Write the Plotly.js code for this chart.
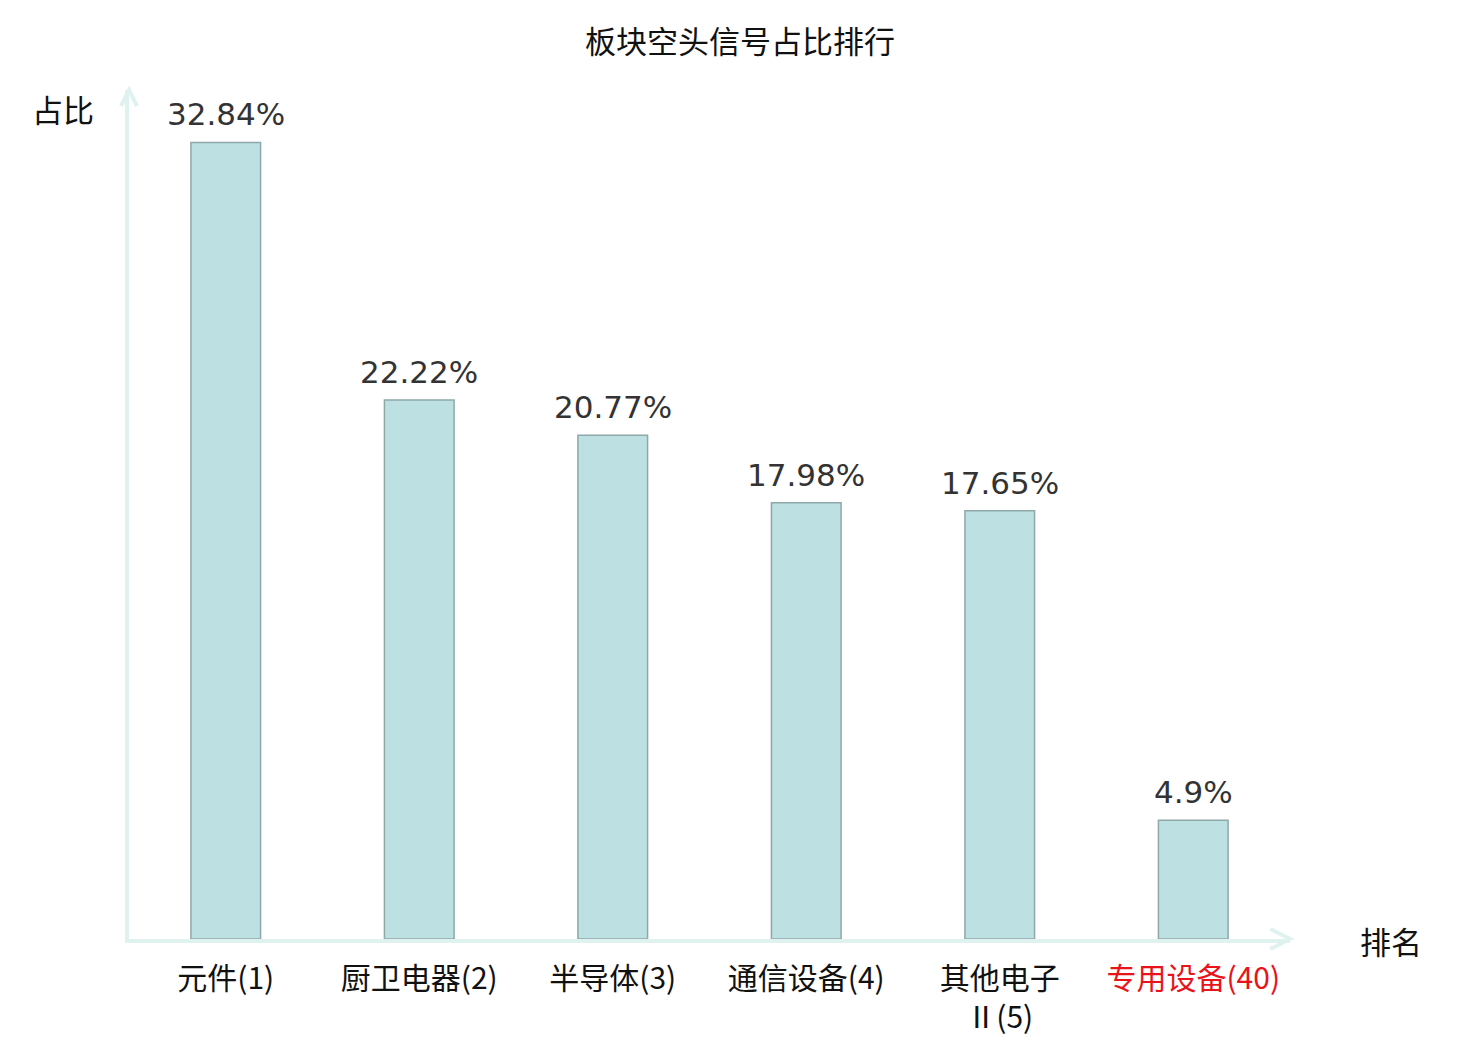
<!DOCTYPE html>
<html>
<head>
<meta charset="utf-8">
<script src="https://cdn.plot.ly/plotly-3.0.1.min.js"></script>
<style>
  html, body { margin: 0; padding: 0; background: #fff; }
  #graph { width: 1480px; height: 1040px; }
</style>
</head>
<body>
<div id="graph"></div>
<script>
var sectors = ['元件', '厨卫电器', '半导体', '通信设备', '其他电子<br>Ⅱ', '专用设备'];
var ranks = [1, 2, 3, 4, 5, 40];
var shares = [32.84, 22.22, 20.77, 17.98, 17.65, 4.9];
var labels = ['32.84%', '22.22%', '20.77%', '17.98%', '17.65%', '4.9%'];

var graph = document.getElementById('graph');
var cjk = '"Noto Sans CJK SC", "DejaVu Sans", sans-serif';
var axisColor = '#dff2ef';

// tick text: name + rank, the last one (highlighted sector) in red
var tickText = [];
for (var i = 0; i < sectors.length; i++) {
  var t = sectors[i] + '(' + ranks[i] + ')';
  if (i == sectors.length - 1) t = '<span style="color:#e8141a">' + t + '</span>';
  tickText.push(t);
}

var xs = sectors.map(function (s, i) { return i; });

var trace = {
  x: xs,
  y: shares,
  type: 'bar',
  width: 0.36,
  marker: { color: '#bde0e3', line: { color: '#8fa8a8', width: 1.5 } },
  hoverinfo: 'none'
};

// value labels above the bars
var valueNotes = xs.map(function (x, i) {
  return {
    x: x, y: shares[i], xref: 'x', yref: 'y',
    text: labels[i], showarrow: false,
    xanchor: 'center', yanchor: 'bottom', yshift: 8,
    font: { family: '"DejaVu Sans", sans-serif', size: 31, color: '#333333' }
  };
});

var layout = {
  width: 1480,
  height: 1040,
  margin: { l: 129, r: 190, t: 90, b: 101 },
  paper_bgcolor: '#ffffff',
  plot_bgcolor: '#ffffff',
  showlegend: false,
  title: {
    text: '板块空头信号占比排行',
    font: { family: cjk, size: 31, color: '#111111' },
    x: 0.5,
    xanchor: 'center',
    y: 0.959,
    yanchor: 'middle'
  },
  xaxis: {
    range: [-0.5, 5.5],
    tickmode: 'array',
    tickvals: xs,
    ticktext: tickText,
    ticks: 'outside',
    ticklen: 10,
    tickcolor: 'rgba(0,0,0,0)',
    tickfont: { family: cjk, size: 30, color: '#111111' },
    showgrid: false,
    zeroline: false,
    showline: true,
    linecolor: axisColor,
    linewidth: 4,
    fixedrange: true
  },
  yaxis: {
    range: [0, 35],
    showgrid: false,
    zeroline: false,
    showticklabels: false,
    showline: true,
    linecolor: axisColor,
    linewidth: 4,
    fixedrange: true
  },
  shapes: [
    // arrow heads on the axes
    {
      type: 'path', xref: 'paper', yref: 'paper',
      path: 'M 0.983,0.0118 L 1,0 L 0.983,-0.0118',
      line: { color: axisColor, width: 4 }
    },
    {
      type: 'path', xref: 'paper', yref: 'paper',
      path: 'M -0.0069,0.981 L 0,1 L 0.0069,0.981',
      line: { color: axisColor, width: 4 }
    }
  ],
  annotations: valueNotes.concat([
    {
      text: '占比', xref: 'paper', yref: 'paper',
      x: -0.057, y: 0.978, xanchor: 'center', yanchor: 'middle',
      showarrow: false, font: { family: cjk, size: 31, color: '#111111' }
    },
    {
      text: '排名', xref: 'paper', yref: 'paper',
      x: 1.087, y: -0.002, xanchor: 'center', yanchor: 'middle',
      showarrow: false, font: { family: cjk, size: 31, color: '#111111' }
    }
  ])
};

Plotly.newPlot(graph, [trace], layout, { displayModeBar: false, staticPlot: true });
</script>
</body>
</html>
